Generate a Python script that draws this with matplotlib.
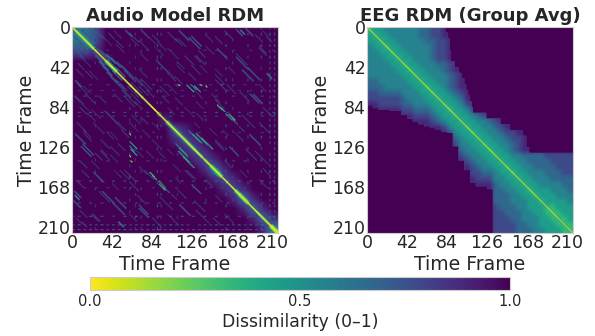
import matplotlib
matplotlib.use("Agg")
import matplotlib.pyplot as plt
import numpy as np

n_frames = 216
tick_frames = [0, 42, 84, 126, 168, 210]

# digit d means dissimilarity d/9, rows start at the diagonal, missing cells are the pad digit
audio_base = [
    "557999999999999999999", "6799999999999999999", "899999999999999999", "89999999999999999",
    "9999999999999999", "999999999999999", "99999999999999", "9999999999999", "999999999999",
    "89999999999", "7899999999", "789999999", "78999999", "7899999", "689999", "78999",
    "7899", "689", "68", "68", "5",
]
audio_diag = "000000000000000000000"
# thicker parts around the diagonal: first frame, last frame, half width, digit
audio_blobs = [
    (3, 22, 3, 3), (24, 60, 1, 3), (34, 46, 3, 3), (60, 96, 1, 4),
    (98, 118, 3, 4), (104, 112, 4, 4), (118, 136, 2, 3), (136, 144, 1, 3),
    (144, 156, 3, 2), (148, 153, 4, 2), (170, 184, 3, 2), (174, 182, 3, 1),
    (192, 207, 2, 4), (207, 216, 3, 0),
]
# streaks along the diagonal direction, mirrored: row, col, length, digit
audio_streaks = [
    (4, 0, 18, 4), (7, 0, 17, 4), (10, 1, 14, 5), (13, 0, 11, 5), (17, 0, 8, 5), (20, 3, 5, 6),
    (24, 4, 8, 6), (30, 8, 7, 6), (26, 22, 10, 5), (30, 24, 10, 5), (36, 28, 10, 4), (41, 32, 10, 5),
    (47, 36, 12, 5), (52, 40, 12, 6), (46, 42, 10, 5), (55, 46, 12, 6), (60, 48, 14, 6), (66, 52, 16, 6),
    (72, 54, 12, 6), (62, 58, 12, 6), (70, 62, 10, 6), (60, 50, 5, 5), (78, 66, 8, 7),
    (56, 3, 7, 5), (72, 3, 9, 6), (80, 10, 8, 7), (86, 20, 10, 7), (62, 12, 8, 7), (46, 14, 8, 6),
    (38, 6, 7, 6), (88, 34, 10, 7), (98, 44, 10, 7), (100, 60, 10, 7), (94, 72, 8, 7),
    (112, 3, 11, 5), (125, 9, 11, 5), (132, 24, 8, 6), (118, 30, 10, 6), (110, 40, 8, 7),
    (108, 52, 8, 6), (122, 48, 8, 6), (134, 40, 8, 7), (140, 8, 8, 6), (152, 22, 11, 5),
    (172, 31, 13, 5), (185, 43, 12, 5), (204, 48, 6, 3), (160, 4, 9, 6), (172, 2, 7, 5),
    (182, 1, 8, 5), (192, 8, 8, 6), (204, 10, 6, 6), (196, 22, 8, 6), (150, 50, 10, 7),
    (162, 60, 10, 6), (176, 68, 10, 6), (190, 70, 10, 5), (200, 84, 10, 6), (178, 92, 14, 6),
    (186, 112, 12, 5), (192, 130, 10, 6), (200, 148, 8, 6), (172, 112, 8, 6), (165, 125, 10, 5),
    (152, 81, 5, 2), (161, 90, 7, 3), (168, 96, 6, 5), (175, 104, 6, 6),
    (130, 111, 12, 3), (136, 116, 12, 3), (122, 108, 12, 4), (116, 118, 12, 4), (128, 128, 6, 4),
    (112, 126, 10, 3), (140, 138, 7, 5), (150, 120, 10, 6), (144, 106, 8, 7),
    (120, 60, 8, 3), (128, 61, 7, 3), (140, 61, 2, 0), (60, 111, 2, 0), (60, 134, 2, 0), (60, 124, 6, 4),
    (84, 155, 5, 2), (91, 164, 7, 2), (3, 176, 5, 3), (11, 122, 12, 5), (5, 100, 10, 6), (13, 112, 8, 6),
    (6, 60, 10, 6), (14, 70, 10, 6), (8, 84, 8, 6), (22, 100, 12, 7), (30, 130, 10, 6), (10, 150, 8, 6),
    (28, 172, 12, 6), (45, 178, 12, 5), (55, 150, 12, 6), (40, 125, 10, 6), (70, 186, 10, 5),
    (100, 196, 12, 6), (128, 182, 12, 6), (20, 196, 8, 6), (4, 200, 6, 7), (35, 88, 14, 6),
    (62, 92, 10, 7), (74, 108, 8, 7), (90, 130, 8, 7), (76, 150, 10, 6), (110, 170, 10, 7),
    (18, 46, 9, 7), (12, 34, 8, 7), (4, 44, 8, 7), (2, 72, 7, 7), (16, 90, 9, 7), (28, 72, 8, 7),
    (44, 70, 9, 7), (48, 100, 9, 7), (36, 110, 8, 7), (20, 140, 9, 7), (44, 150, 8, 7), (66, 128, 9, 7),
    (84, 100, 8, 7), (100, 128, 6, 7), (118, 150, 9, 7), (140, 160, 8, 7), (134, 196, 10, 7),
    (160, 196, 8, 7), (176, 150, 8, 7), (158, 108, 6, 7), (146, 70, 9, 7), (130, 78, 8, 7),
    (118, 84, 8, 7), (108, 12, 8, 7), (128, 30, 7, 7), (164, 42, 7, 7), (196, 60, 8, 7),
]
# faint horizontal and vertical dashes: frame, pattern with one digit per 6 frames
audio_stripe_rows = [24, 60, 66, 72, 89, 93, 110, 140, 161, 168, 184, 198, 207, 212]
audio_stripe_patterns = [
    "898989899999989898999998989989989898",
    "989899896989897989899989896989898999",
    "989898989898989898989898989898989898",
    "998989989899898989989899989989899898",
    "979697969796979796979797969797969796",
    "989898989898989898989898989898989898",
    "998999899989998999899989998998999899",
    "989999899989989989998999899989899999",
    "979697969796979897969796979797979696",
    "998989899889998989899899898999899989",
    "989898989898989898989898989898989898",
    "879697989695979897969796979897979696",
    "858785878587858785878987858785878587",
    "767676767576767676757676767676767676",
]

eeg_base = [
    "34455555566778", "3445555566778", "3445555566778", "344555556778", "34455556778",
    "3445556778", "3445556678", "344555678", "344555678", "34455678", "3445678", "3445678",
    "344568", "34457", "34457", "34456778", "34455678", "34455678", "3445567788",
    "344556778", "34455678", "3445678", "34455666677777", "3445566667777", "344556666777",
    "34455566677", "3445556666", "344555566", "34445556", "3444555", "344445", "33444",
    "3344", "334", "33", "3",
]
eeg_diag = "111111111111111111111"
# first dark frame to the right of the diagonal, one value per 6 rows
eeg_edge = [
    82, 85, 87, 87, 88, 88, 92, 96, 99, 102, 104, 106, 108, 110, 111, 125, 140, 150,
    163, 167, 167, 170,
]


def upper_to_matrix(rows, pad=9.0):
    size = len(rows)
    matrix = np.full((size, size), pad)
    for i, row in enumerate(rows):
        for k, digit in enumerate(row[: size - i]):
            matrix[i, i + k] = int(digit)
            matrix[i + k, i] = int(digit)
    return matrix / 9


def put(layer, r, c, value):
    if 0 <= r < n_frames and 0 <= c < n_frames:
        for a, b in ((r, c), (c, r)):
            if np.isnan(layer[a, b]) or layer[a, b] > value:
                layer[a, b] = value


def diagonal_layer(digits):
    layer = np.full((n_frames, n_frames), np.nan)
    for f in range(n_frames):
        value = int(digits[f * len(digits) // n_frames]) / 9
        layer[f, f] = value
        put(layer, f, f + 1, value + 0.12)
    return layer


def audio_layer():
    layer = diagonal_layer(audio_diag)
    for start, stop, half, digit in audio_blobs:
        for f in range(start, stop):
            for off in range(1, half + 1):
                put(layer, f, f + off, digit / 9 + 0.07 * off)
    for r, c, length, digit in audio_streaks:
        for k in range(length):
            put(layer, r + k, c + k, min(digit + 1, 9) / 9 if digit >= 4 else digit / 9)
            if digit <= 5:
                put(layer, r + k, c + k + 1, min(digit + 2.5, 9) / 9)
    for frame, pattern in zip(audio_stripe_rows, audio_stripe_patterns):
        for i, digit in enumerate(pattern):
            if digit != "9":
                for c in range(i * 6, i * 6 + 3):
                    put(layer, frame, c, int(digit) / 9)
    return layer


def eeg_layer():
    layer = diagonal_layer(eeg_diag)
    for i, edge in enumerate(eeg_edge):
        for r in range(i * 6, i * 6 + 6):
            for c in range(edge, n_frames):
                put(layer, r, c, 1.0)
    return layer


fig = plt.figure(figsize=(5.95, 3.36), dpi=100)
text_color = "#262626"
overlay_cmap = plt.get_cmap("viridis_r").with_extremes(bad=(0.22, 0.45, 0.55, 0.0))
panels = [
    ("Audio Model RDM", 72, upper_to_matrix(audio_base), audio_layer()),
    ("EEG RDM (Group Avg)", 367, upper_to_matrix(eeg_base, pad=8.0), eeg_layer()),
]
for title, left, base, layer in panels:
    ax = fig.add_axes([left / 595, 1 - 233 / 336, 206 / 595, 206 / 336])
    im = ax.imshow(base, cmap="viridis_r", vmin=0, vmax=1,
                   extent=[0, n_frames, n_frames, 0], interpolation="bilinear")
    ax.imshow(layer, cmap=overlay_cmap, vmin=0, vmax=1,
              extent=[0, n_frames, n_frames, 0], interpolation="bilinear",
              interpolation_stage="rgba")
    ax.set_xticks(tick_frames)
    ax.set_yticks(tick_frames)
    ax.tick_params(length=0, labelsize=12.5, pad=1, labelcolor=text_color)
    ax.set_xlabel("Time Frame", fontsize=13.6, color=text_color, labelpad=2)
    ax.set_ylabel("Time Frame", fontsize=13.6, color=text_color, labelpad=1)
    ax.set_title(title, fontsize=13, fontweight="bold", color=text_color, pad=4)
    for spine in ax.spines.values():
        spine.set_color("#cccccc")
        spine.set_linewidth(0.8)

cax = fig.add_axes([90 / 595, 1 - 290 / 336, 420 / 595, 13 / 336])
cbar = fig.colorbar(im, cax=cax, orientation="horizontal")
cbar.set_ticks([0, 0.5, 1])
cbar.set_ticklabels(["0.0", "0.5", "1.0"])
cbar.ax.tick_params(length=0, labelsize=10.5, pad=3, labelcolor=text_color)
cbar.set_label("Dissimilarity (0–1)", fontsize=12.4, color=text_color, labelpad=3)
cbar.outline.set_edgecolor("#cccccc")
cbar.outline.set_linewidth(0.8)

fig.savefig("out.png", dpi=100)
plt.close(fig)
